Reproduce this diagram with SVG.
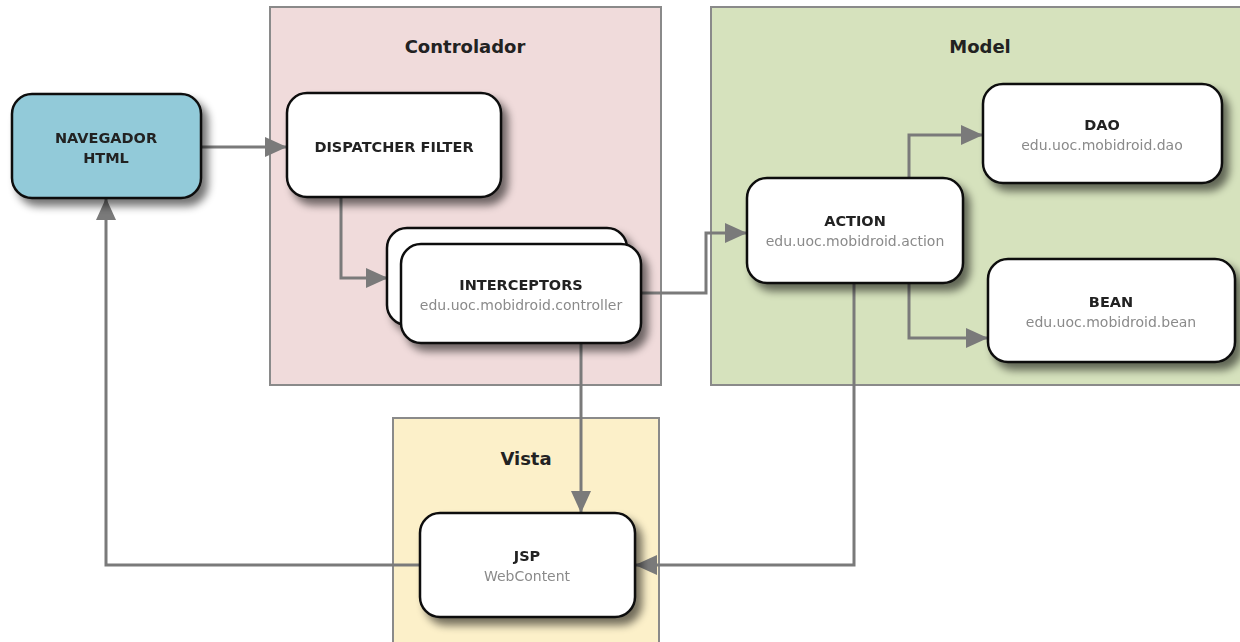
<svg xmlns="http://www.w3.org/2000/svg" width="1240" height="642" viewBox="0 0 1240 642">
<style>
.grp{stroke:#8a8a8a;stroke-width:2}
.node{fill:#fff;stroke:#111;stroke-width:2.5}
.gt{font-family:"DejaVu Sans",Verdana,sans-serif;font-weight:bold;font-size:18px;fill:#222;text-anchor:middle}
.nt{font-family:"DejaVu Sans",Verdana,sans-serif;font-weight:bold;font-size:14.5px;fill:#222;text-anchor:middle}
.st{font-family:"DejaVu Sans",Verdana,sans-serif;font-size:14px;fill:#8a8a8a;text-anchor:middle}
.con{fill:none;stroke:#7a7a7a;stroke-width:3}
</style>
<defs>
<filter id="sh" x="-20%" y="-20%" width="150%" height="160%">
<feGaussianBlur in="SourceAlpha" stdDeviation="4"/>
<feOffset dx="6" dy="7" result="b"/>
<feComponentTransfer><feFuncA type="linear" slope="0.55"/></feComponentTransfer>
<feMerge><feMergeNode/><feMergeNode in="SourceGraphic"/></feMerge>
</filter>
<marker id="ah" viewBox="0 0 22 20" refX="22" refY="10" markerWidth="22" markerHeight="20" markerUnits="userSpaceOnUse" orient="auto">
<path d="M0,0 L22,10 L0,20 Z" fill="#7a7a7a"/>
</marker>
</defs>
<rect width="1240" height="642" fill="#fff"/>
<g id="controlador">
<rect class="grp" x="270" y="7" width="391" height="378" fill="#f0dbdb"/>
<text class="gt" x="465" y="53">Controlador</text>
</g>
<g id="model">
<rect class="grp" x="711" y="7" width="540" height="378" fill="#d6e2bd"/>
<text class="gt" x="980" y="53">Model</text>
</g>
<g id="vista">
<rect class="grp" x="393" y="418" width="266" height="240" fill="#fcf0c9"/>
<text class="gt" x="526" y="465">Vista</text>
</g>
<g id="connectors">
<path class="con" d="M201,147 H287" marker-end="url(#ah)"/>
<path class="con" d="M341,197 V278 H388" marker-end="url(#ah)"/>
<path class="con" d="M641,293 H706 V233 H747" marker-end="url(#ah)"/>
<path class="con" d="M909,178 V135 H983" marker-end="url(#ah)"/>
<path class="con" d="M909,283 V338 H988" marker-end="url(#ah)"/>
<path class="con" d="M581,343 V513" marker-end="url(#ah)"/>
<path class="con" d="M854,283 V565 H635" marker-end="url(#ah)"/>
<path class="con" d="M420,565 H106 V198" marker-end="url(#ah)"/>
</g>
<g id="navegador" filter="url(#sh)">
<rect x="12" y="94" width="189" height="104" rx="20" fill="#92cad9" stroke="#111" stroke-width="2.5"/>
<text class="nt" x="106" y="143">NAVEGADOR</text>
<text class="nt" x="106" y="163">HTML</text>
</g>
<g id="dispatcher" filter="url(#sh)">
<rect class="node" x="287" y="93" width="214" height="104" rx="20"/>
<text class="nt" x="394" y="152">DISPATCHER FILTER</text>
</g>
<g id="interceptors" filter="url(#sh)">
<rect class="node" x="387" y="228" width="240" height="97" rx="20"/>
<rect class="node" x="401" y="244" width="240" height="99" rx="20"/>
<text class="nt" x="521" y="290">INTERCEPTORS</text>
<text class="st" x="521" y="310">edu.uoc.mobidroid.controller</text>
</g>
<g id="action" filter="url(#sh)">
<rect class="node" x="747" y="178" width="216" height="105" rx="20"/>
<text class="nt" x="855" y="226">ACTION</text>
<text class="st" x="855" y="246">edu.uoc.mobidroid.action</text>
</g>
<g id="dao" filter="url(#sh)">
<rect class="node" x="983" y="84" width="239" height="99" rx="20"/>
<text class="nt" x="1102" y="130">DAO</text>
<text class="st" x="1102" y="150">edu.uoc.mobidroid.dao</text>
</g>
<g id="bean" filter="url(#sh)">
<rect class="node" x="988" y="259" width="247" height="103" rx="20"/>
<text class="nt" x="1111" y="307">BEAN</text>
<text class="st" x="1111" y="327">edu.uoc.mobidroid.bean</text>
</g>
<g id="jsp" filter="url(#sh)">
<rect class="node" x="420" y="513" width="215" height="104" rx="20"/>
<text class="nt" x="527" y="561">JSP</text>
<text class="st" x="527" y="581">WebContent</text>
</g>
</svg>
